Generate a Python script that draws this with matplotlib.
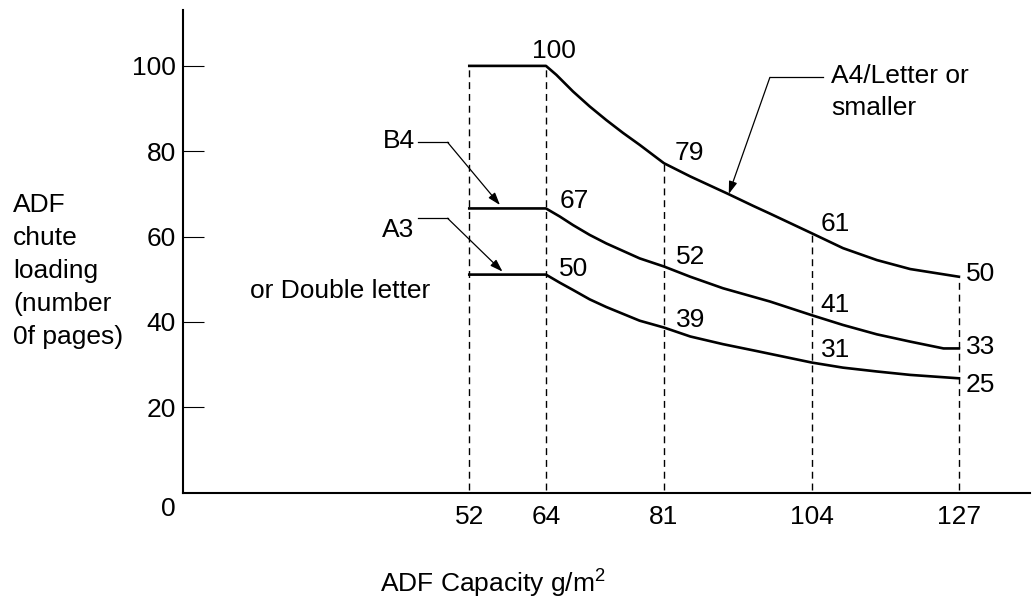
import numpy as np
import matplotlib.pyplot as plt

plt.rcParams['font.family'] = ['Liberation Sans', 'DejaVu Sans']
plt.rcParams['mathtext.fontset'] = 'custom'
plt.rcParams['mathtext.rm'] = 'Liberation Sans'
plt.rcParams['mathtext.it'] = 'Liberation Sans'

# paper weight (g/m2) against chute loading (pages)
a4_x = [52, 64, 65.5, 67.9, 70.3, 72.7, 75.1, 77.5, 81, 85.1, 91.0, 94.9, 97.5,
        104, 108.9, 114.2, 119.4, 127]
a4_y = [100, 100, 97.9, 94.0, 90.5, 87.3, 84.3, 81.5, 77.2, 74.1, 70.0, 67.2, 65.4,
        60.8, 57.3, 54.5, 52.4, 50.6]

b4_x = [52, 64, 66.0, 67.9, 70.3, 72.7, 77.5, 81, 85.1, 90.2, 97.5,
        104, 108.9, 114.2, 119.4, 124.6, 127]
b4_y = [66.6, 66.6, 64.7, 62.7, 60.4, 58.4, 54.9, 53.0, 50.6, 47.9, 44.8,
        41.6, 39.3, 37.1, 35.4, 33.8, 33.8]

a3_x = [52, 64, 66.0, 67.9, 70.3, 72.7, 77.5, 81, 85.1, 90.2, 95.4,
        104, 108.9, 114.2, 119.4, 127]
a3_y = [51.1, 51.1, 49.2, 47.5, 45.3, 43.5, 40.3, 38.7, 36.6, 34.8, 33.2,
        30.5, 29.3, 28.4, 27.6, 26.8]

weights = [52, 64, 81, 104, 127]
guide_tops = [100, 100, 77.2, 60.8, 50.6]
yticks = [20, 40, 60, 80, 100]

# value labels: (text, x, y)
value_labels = [
    ("100", 61.8, 101.9), ("79", 82.7, 77.9), ("61", 105.4, 61.2), ("50", 128.1, 49.5),
    ("67", 65.9, 66.6), ("52", 82.9, 53.6), ("41", 105.4, 42.4), ("33", 128.1, 32.4),
    ("50", 65.9, 50.8), ("39", 82.9, 38.9), ("31", 105.4, 31.7), ("25", 128.1, 23.7),
]

# the printed axis is not evenly spaced between the marked weights
scale_gsm = [0, 52, 64, 81, 104, 127, 150]
scale_pos = [137.0, 469.3, 546.0, 664.0, 811.7, 959.0, 1106.2]


def fwd(v):
    return np.interp(v, scale_gsm, scale_pos)


def inv(p):
    return np.interp(p, scale_pos, scale_gsm)


FS = 19
fig = plt.figure(figsize=(10.33, 6.01), dpi=100)
ax = fig.add_axes([0.1769, 0.1802, 0.997 - 0.1769, 0.9834 - 0.1802])
ax.set_xscale("function", functions=(fwd, inv))

for xs, ys in [(a4_x, a4_y), (b4_x, b4_y), (a3_x, a3_y)]:
    ax.plot(xs, ys, color="black", lw=1.9, solid_joinstyle="round", zorder=3)

for w, top in zip(weights, guide_tops):
    ax.plot([w, w], [0.6, top], color="black", lw=1.0, dashes=(5, 3.5), zorder=2)

for txt, x, y in value_labels:
    ax.text(x, y, txt, fontsize=FS, ha="left", va="baseline")

# callouts
arrow = dict(arrowstyle="-|>,head_length=0.75,head_width=0.25", color="black", lw=0.9,
             shrinkA=0, shrinkB=0)
ax.text(38.4, 80.7, "B4", fontsize=FS, ha="left", va="baseline")
ax.plot([44.0, 48.6], [82.1, 82.1], color="black", lw=0.9)
ax.annotate("", xy=(56.8, 67.4), xytext=(48.6, 82.1), arrowprops=arrow)

ax.text(38.4, 60.0, "A3", fontsize=FS, ha="left", va="baseline")
ax.plot([44.0, 48.6], [64.3, 64.3], color="black", lw=0.9)
ax.annotate("", xy=(57.2, 51.8), xytext=(48.6, 64.3), arrowprops=arrow)
ax.text(17.7, 45.6, "or Double letter", fontsize=FS, ha="left", va="baseline")

ax.text(107.1, 95.9, "A4/Letter or", fontsize=FS, ha="left", va="baseline")
ax.text(107.1, 88.5, "smaller", fontsize=FS, ha="left", va="baseline")
ax.plot([97.5, 105.8], [97.3, 97.3], color="black", lw=0.9)
ax.annotate("", xy=(91.1, 70.0), xytext=(97.5, 97.3), arrowprops=arrow)

ax.set_xlim(7.15, 138.1)
ax.set_ylim(0, 113.1)
ax.set_xticks(weights)
ax.set_xticklabels([str(w) for w in weights])
ax.set_yticks(yticks)
ax.set_yticklabels([str(t) for t in yticks])
ax.tick_params(axis="x", length=0, pad=9, labelsize=FS)
ax.tick_params(axis="y", direction="in", length=15, width=0.8, pad=5, labelsize=FS)
ax.minorticks_off()
for s in ["top", "right"]:
    ax.spines[s].set_visible(False)
for s in ["left", "bottom"]:
    ax.spines[s].set_linewidth(1.5)
ax.text(4.85, -3.8, "0", fontsize=FS, ha="center", va="center", clip_on=False)

fig.text(13 / 1033, 1 - 193 / 601, "ADF\nchute\nloading\n(number\n0f pages)",
         fontsize=FS, ha="left", va="top", linespacing=1.47)
fig.text(493 / 1033, 1 - 593 / 601, "ADF Capacity g/m$^2$", fontsize=FS,
         ha="center", va="baseline")

fig.savefig("out.png", dpi=100)
